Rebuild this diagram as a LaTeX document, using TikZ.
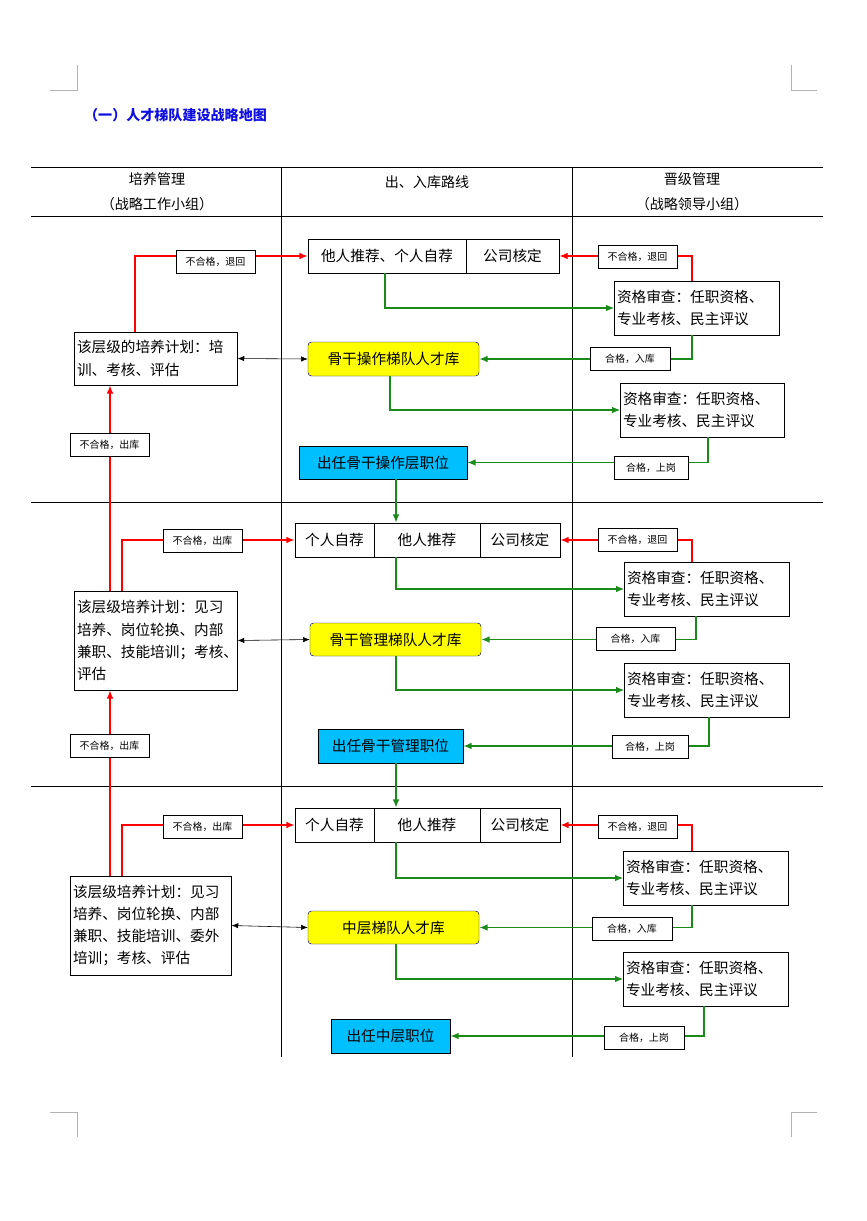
\documentclass[tikz,border=0pt]{standalone}
\usepackage{fontspec}
\setmainfont{Noto Sans CJK SC}
\usetikzlibrary{positioning,arrows.meta}
\definecolor{poolyellow}{HTML}{FFFF00}
\definecolor{postblue}{HTML}{00BFFF}
\definecolor{lanegreen}{HTML}{1A8A1A}
\definecolor{titleblue}{HTML}{1010E0}
\def\u{0.03cm}

\begin{document}
\begin{tikzpicture}[x=0.03cm,y=-0.03cm,
            redarrow/.style={-{Latex[length=2.5mm,width=2mm]}, line width=1.6pt, red},
            greenarrow/.style={-{Latex[length=2.5mm,width=2mm]}, line width=1.6pt, lanegreen},
            dblarrow/.style={{Latex[length=2mm,width=1.6mm]}-{Latex[length=2mm,width=1.6mm]}, line width=0.5pt}]
            % Box styles
            \tikzstyle{boxnode} = [draw, rectangle, fill=white, text centered, inner sep=2pt, font=\fontsize{12.5pt}{19pt}\selectfont]
            \tikzstyle{plannode} = [boxnode, align=left, text width=158*\u]
            \tikzstyle{poolnode} = [boxnode, fill=poolyellow, draw=blue!50!black, rounded corners=3pt]
            \tikzstyle{postnode} = [boxnode, fill=postblue]
            \tikzstyle{tagnode} = [draw, rectangle, fill=white, inner sep=1pt, minimum height=23*\u, font=\fontsize{8.5pt}{10pt}\selectfont]
            \useasboundingbox (0,0) rectangle (867,1221);

            % Page corners and title
            \draw[gray!60] (50,90) -- (77,90) -- (77,65) (817,90) -- (791,90) -- (791,65)
                (50,1112) -- (77,1112) -- (77,1137) (817,1112) -- (791,1112) -- (791,1137);
            \node (title) [anchor=west, text=titleblue, font=\fontsize{12pt}{14pt}\selectfont\bfseries] at (80,115) {（一）人才梯队建设战略地图};

            % Table frame
            \draw (31,167) -- (823,167) (31,216) -- (823,216) (31,502) -- (823,502) (31,786) -- (823,786);
            \draw (281,167) -- (281,1057) (572,167) -- (572,1057);
            \node (hdA) [align=center, font=\fontsize{12pt}{21pt}\selectfont] at (157,192) {培养管理\\（战略工作小组）};
            \node (hdB) [font=\fontsize{12pt}{14pt}\selectfont] at (427,182) {出、入库路线};
            \node (hdC) [align=center, font=\fontsize{12pt}{21pt}\selectfont] at (692,192) {晋级管理\\（战略领导小组）};

            % Tier 1
            \node (top1a) [boxnode, minimum width=158*\u, minimum height=34*\u] at (387,256) {他人推荐、个人自荐};
            \node (top1b) [boxnode, minimum width=93*\u, minimum height=34*\u] at (512.5,256) {公司核定};
            \node (pool1) [poolnode, minimum width=171*\u, minimum height=34*\u] at (393.5,359) {骨干操作梯队人才库};
            \node (post1) [postnode, minimum width=168*\u, minimum height=33*\u] at (383,462.5) {出任骨干操作层职位};
            \node (chk1a) [plannode, text width=160*\u, minimum height=54*\u] at (697,308) {资格审查：任职资格、\\专业考核、民主评议};
            \node (chk1b) [plannode, text width=159*\u, minimum height=54*\u] at (702.5,410) {资格审查：任职资格、\\专业考核、民主评议};
            \node (plan1) [plannode, minimum height=53*\u] at (156,358.5) {该层级的培养计划：培\\训、考核、评估};

            % Tier 2
            \node (top2a) [boxnode, minimum width=79*\u, minimum height=34*\u] at (334.5,540) {个人自荐};
            \node (top2b) [boxnode, minimum width=106*\u, minimum height=34*\u] at (427,540) {他人推荐};
            \node (top2c) [boxnode, minimum width=80*\u, minimum height=34*\u] at (520,540) {公司核定};
            \node (pool2) [poolnode, minimum width=171*\u, minimum height=33*\u] at (395.5,639.5) {骨干管理梯队人才库};
            \node (post2) [postnode, minimum width=145*\u, minimum height=34*\u] at (390.5,746) {出任骨干管理职位};
            \node (chk2a) [plannode, text width=160*\u, minimum height=54*\u] at (707,589) {资格审查：任职资格、\\专业考核、民主评议};
            \node (chk2b) [plannode, text width=160*\u, minimum height=54*\u] at (707,690) {资格审查：任职资格、\\专业考核、民主评议};
            \node (plan2) [plannode, minimum height=99*\u] at (156,640.5) {该层级培养计划：见习\\培养、岗位轮换、内部\\兼职、技能培训；考核、\\评估};

            % Tier 3
            \node (top3a) [boxnode, minimum width=79*\u, minimum height=34*\u] at (334.5,825) {个人自荐};
            \node (top3b) [boxnode, minimum width=106*\u, minimum height=34*\u] at (427,825) {他人推荐};
            \node (top3c) [boxnode, minimum width=80*\u, minimum height=34*\u] at (520,825) {公司核定};
            \node (pool3) [poolnode, minimum width=171*\u, minimum height=33*\u] at (393.5,927.5) {中层梯队人才库};
            \node (post3) [postnode, minimum width=119*\u, minimum height=34*\u] at (390.5,1036) {出任中层职位};
            \node (chk3a) [plannode, text width=160*\u, minimum height=54*\u] at (706,878) {资格审查：任职资格、\\专业考核、民主评议};
            \node (chk3b) [plannode, text width=160*\u, minimum height=54*\u] at (706,979) {资格审查：任职资格、\\专业考核、民主评议};
            \node (plan3) [plannode, text width=156*\u, minimum height=99*\u] at (151,925.5) {该层级培养计划：见习\\培养、岗位轮换、内部\\兼职、技能培训、委外\\培训；考核、评估};

            % Green routes
            \draw [greenarrow] (385,0 |- top1a.south) |- (chk1a.west);
            \draw [greenarrow] (692,0 |- chk1a.south) |- (pool1.east);
            \draw [greenarrow] (390,0 |- pool1.south) |- (chk1b.west);
            \draw [greenarrow] (708,0 |- chk1b.south) |- (post1.east);
            \draw [greenarrow] (396,0 |- post1.south) -- (396,0 |- top2b.north);
            \draw [greenarrow] (396,0 |- top2b.south) |- (chk2a.west);
            \draw [greenarrow] (696,0 |- chk2a.south) |- (pool2.east);
            \draw [greenarrow] (396,0 |- pool2.south) |- (chk2b.west);
            \draw [greenarrow] (709,0 |- chk2b.south) |- (post2.east);
            \draw [greenarrow] (396,0 |- post2.south) -- (396,0 |- top3b.north);
            \draw [greenarrow] (396,0 |- top3b.south) |- (chk3a.west);
            \draw [greenarrow] (692,0 |- chk3a.south) |- (pool3.east);
            \draw [greenarrow] (396,0 |- pool3.south) |- (chk3b.west);
            \draw [greenarrow] (704,0 |- chk3b.south) |- (post3.east);

            % Red routes
            \draw [redarrow] (135,0 |- plan1.north) |- (top1a.west);
            \draw [redarrow] (692,0 |- chk1a.north) |- (top1b.east);
            \draw [redarrow] (110,0 |- plan2.north) -- (110,0 |- plan1.south);
            \draw [redarrow] (122,0 |- plan2.north) |- (top2a.west);
            \draw [redarrow] (692,0 |- chk2a.north) |- (top2c.east);
            \draw [redarrow] (110,0 |- plan3.north) -- (110,0 |- plan2.south);
            \draw [redarrow] (122,0 |- plan3.north) |- (top3a.west);
            \draw [redarrow] (692,0 |- chk3a.north) |- (top3c.east);

            % Plan to pool
            \draw [dblarrow] (plan1.east) -- (pool1.west);
            \draw [dblarrow] (plan2.east) -- (pool2.west);
            \draw [dblarrow] (plan3.east) -- (pool3.west);

            % Tags on the routes
            \node (t1l) [tagnode, minimum width=79*\u] at (215.5,262) {不合格，退回};
            \node (t1r) [tagnode, minimum width=79*\u] at (637.5,257) {不合格，退回};
            \node (t1in) [tagnode, minimum width=80*\u] at (630,358.5) {合格，入库};
            \node (t1up) [tagnode, minimum width=74*\u] at (651,468) {合格，上岗};
            \node (t1out) [tagnode, minimum width=79*\u] at (109.5,444.5) {不合格，出库};
            \node (t2l) [tagnode, minimum width=79*\u] at (202.5,540.5) {不合格，出库};
            \node (t2r) [tagnode, minimum width=79*\u] at (637.5,540) {不合格，退回};
            \node (t2in) [tagnode, minimum width=79*\u] at (635.5,639) {合格，入库};
            \node (t2up) [tagnode, minimum width=76*\u] at (650,747) {合格，上岗};
            \node (t2out) [tagnode, minimum width=79*\u] at (109.5,746) {不合格，出库};
            \node (t3l) [tagnode, minimum width=79*\u] at (202.5,826.5) {不合格，出库};
            \node (t3r) [tagnode, minimum width=79*\u] at (637.5,826.5) {不合格，退回};
            \node (t3in) [tagnode, minimum width=80*\u] at (632,929) {合格，入库};
            \node (t3up) [tagnode, minimum width=80*\u] at (644,1038) {合格，上岗};
        \end{tikzpicture}
\end{document}
